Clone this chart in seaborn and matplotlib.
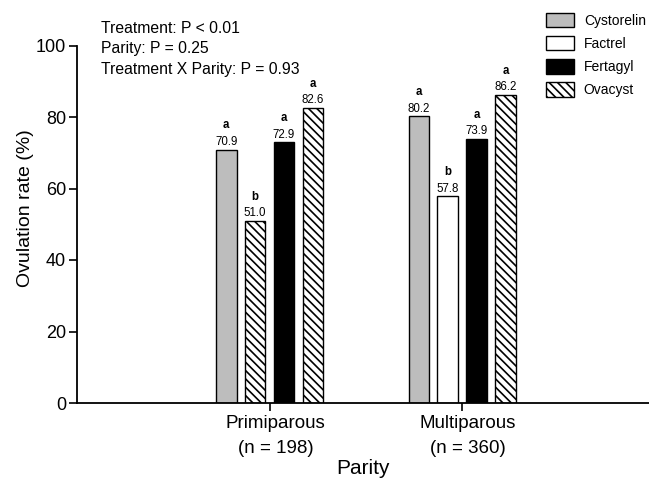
import matplotlib
matplotlib.use("Agg")
import matplotlib.pyplot as plt
import matplotlib.transforms as mtransforms
import seaborn as sns
import pandas as pd
from matplotlib.patches import Patch

parities = ["Primiparous\n(n = 198)", "Multiparous\n(n = 360)"]
treatments = ["Cystorelin", "Factrel", "Fertagyl", "Ovacyst"]
primiparous = [70.9, 51.0, 72.9, 82.6]
multiparous = [80.2, 57.8, 73.9, 86.2]
letters_primi = ["a", "b", "a", "a"]
letters_multi = ["a", "b", "a", "a"]
stats_lines = ["Treatment: P < 0.01", "Parity: P = 0.25", "Treatment X Parity: P = 0.93"]

colors = {"Cystorelin": "#bdbdbd", "Factrel": "white", "Fertagyl": "black", "Ovacyst": "white"}

rows = []
for t, v in zip(treatments, primiparous):
    rows.append({"Parity": parities[0], "Treatment": t, "Rate": v})
for t, v in zip(treatments, multiparous):
    rows.append({"Parity": parities[1], "Treatment": t, "Rate": v})
df = pd.DataFrame(rows)

sns.set_theme(style="white")
plt.rcParams["font.family"] = ["Liberation Sans", "DejaVu Sans"]
plt.rcParams["hatch.linewidth"] = 1.2
for k in ["text.color", "axes.labelcolor", "xtick.color", "ytick.color"]:
    plt.rcParams[k] = "black"

fig = plt.figure(figsize=(6.49, 4.78), dpi=100)
ax = fig.add_axes([77 / 649, 1 - 403 / 478, 1 - 77 / 649, (403 - 45.5) / 478])

sns.barplot(data=df, x="Parity", y="Rate", hue="Treatment", hue_order=treatments,
            palette=colors, edgecolor="black", linewidth=1.0, width=0.6, gap=0.29,
            ax=ax, legend=False)

# hatch Ovacyst bars (and the first Factrel bar, as in the reference)
for bar in ax.containers[3]:
    bar.set_hatch("\\\\\\\\")
ax.containers[1][0].set_hatch("\\\\\\\\")

for i, cont in enumerate(ax.containers):
    ax.bar_label(cont, fmt="%.1f", padding=1, fontsize=8.3)
    ax.bar_label(cont, labels=[letters_primi[i], letters_multi[i]], padding=13,
                 fontsize=8.3, fontweight="bold")

ax.set_xlim(-1.0, 1.97)
ax.set_ylim(0, 100)
ax.set_yticks([0, 20, 40, 60, 80, 100])
ax.tick_params(axis="y", labelsize=13, length=6, width=1.2, direction="out", pad=2, left=True)
ax.tick_params(axis="x", labelsize=13.5, length=6, width=1.2, direction="out", pad=3, bottom=True)
shift = mtransforms.ScaledTranslation(6 / 100, 0, fig.dpi_scale_trans)
for lbl in ax.get_xticklabels():
    lbl.set_transform(lbl.get_transform() + shift)
    lbl.set_linespacing(1.55)
for s in ["top", "right"]:
    ax.spines[s].set_visible(False)
for s in ["left", "bottom"]:
    ax.spines[s].set_color("black")
    ax.spines[s].set_linewidth(1.3)
ax.set_ylabel("Ovulation rate (%)", fontsize=14)
ax.yaxis.set_label_coords(-0.076, 0.545)
ax.set_xlabel("Parity", fontsize=15, labelpad=2)

for j, line in enumerate(stats_lines):
    fig.text(101 / 649, 1 - (28.5 + 20.5 * j) / 478, line, fontsize=11.3, va="center", ha="left")

handles = []
for t in treatments:
    handles.append(Patch(facecolor=colors[t], edgecolor="black", linewidth=1.0,
                         hatch="\\\\\\\\" if t == "Ovacyst" else None, label=t))
fig.legend(handles=handles, loc="upper left", bbox_to_anchor=(546 / 649, 1 - 13 / 478),
           frameon=False, fontsize=10, handlelength=2.0, handleheight=1.2,
           handletextpad=0.72, labelspacing=0.6, borderpad=0, borderaxespad=0)

fig.savefig("out.png", dpi=100)
